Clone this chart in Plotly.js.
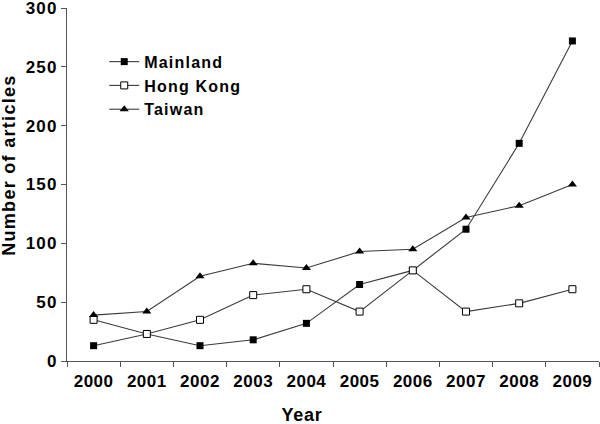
<!DOCTYPE html>
<html><head><meta charset="utf-8">
<script src="https://cdn.plot.ly/plotly-3.0.1.min.js"></script>
<style>
html,body{margin:0;padding:0;background:#fff}#chart{width:600px;height:424px}
#chart .xtick text{letter-spacing:0.5px}
#chart .ytick text{letter-spacing:1.2px}
#chart .legendtext{letter-spacing:1.2px}
#chart .legend .scrollbox{clip-path:none !important}
#chart .annotation-text{letter-spacing:0.7px}
#chart .annotation[data-index="1"] .annotation-text{letter-spacing:1.3px}
</style>
</head><body><div id="chart"></div>
<script>
const years = ["2000","2001","2002","2003","2004","2005","2006","2007","2008","2009"];
const mainland = [13, 23, 13, 18, 32, 65, 77, 112, 185, 272];
const hongKong = [35, 23, 35, 56, 61, 42, 77, 42, 49, 61];
const taiwan   = [39, 42, 72, 83, 79, 93, 95, 122, 132, 150];
const yTicks = [0, 50, 100, 150, 200, 250, 300];
const xTitle = 'Year';
const yTitle = 'Number of articles';

const lineStyle = {color: '#3a3a3a', width: 1.1};
const traces = [
  {x: years, y: mainland, name: 'Mainland', type: 'scatter', mode: 'lines+markers',
   line: lineStyle, marker: {symbol: 'square', size: 7, color: '#000'}},
  {x: years, y: hongKong, name: 'Hong Kong', type: 'scatter', mode: 'lines+markers',
   line: lineStyle, marker: {symbol: 'square', size: 7, color: '#fff', line: {color: '#000', width: 1}}},
  {x: years, y: taiwan, name: 'Taiwan', type: 'scatter', mode: 'lines+markers',
   line: lineStyle, marker: {symbol: 'triangle-up', size: 8, color: '#000'}}
];
const fam = 'Liberation Sans, Arial, sans-serif';
const titleFont = {family: fam, size: 18, color: '#000', weight: 'bold'};
const layout = {
  width: 600, height: 424,
  margin: {l: 67, r: 1, t: 8, b: 63},
  paper_bgcolor: '#fff', plot_bgcolor: '#fff',
  font: {family: fam, color: '#000'},
  showlegend: true,
  legend: {x: 0.07, y: 0.896, xanchor: 'left', yanchor: 'top', bgcolor: 'rgba(0,0,0,0)',
    font: {family: fam, size: 16, color: '#000', weight: 'bold'}, tracegroupgap: 0},
  xaxis: {type: 'category', range: [-0.5, 9.5], tickson: 'boundaries', ticks: 'outside', ticklen: 5,
    tickcolor: '#555', showline: true, linecolor: '#555', linewidth: 1, showgrid: false, zeroline: false,
    ticklabelstandoff: 5, ticklabeloverflow: 'allow',
    tickfont: {family: fam, size: 17, color: '#000', weight: 'bold'}},
  yaxis: {range: [0, 300], tickvals: yTicks, ticks: 'outside', ticklen: 5, tickcolor: '#555',
    showline: true, linecolor: '#555', linewidth: 1, showgrid: false, zeroline: false,
    ticklabeloverflow: 'allow',
    tickfont: {family: fam, size: 17, color: '#000', weight: 'bold'}},
  annotations: [
    {text: xTitle, xref: 'paper', yref: 'paper', x: 0.442, y: -0.153, xanchor: 'center', yanchor: 'middle',
     showarrow: false, font: titleFont},
    {text: yTitle, xref: 'paper', yref: 'paper', x: -0.109, y: 0.555, xanchor: 'center', yanchor: 'middle',
     textangle: -90, showarrow: false, font: titleFont}
  ]
};
Plotly.newPlot('chart', traces, layout, {displayModeBar: false, staticPlot: true});
</script></body></html>
